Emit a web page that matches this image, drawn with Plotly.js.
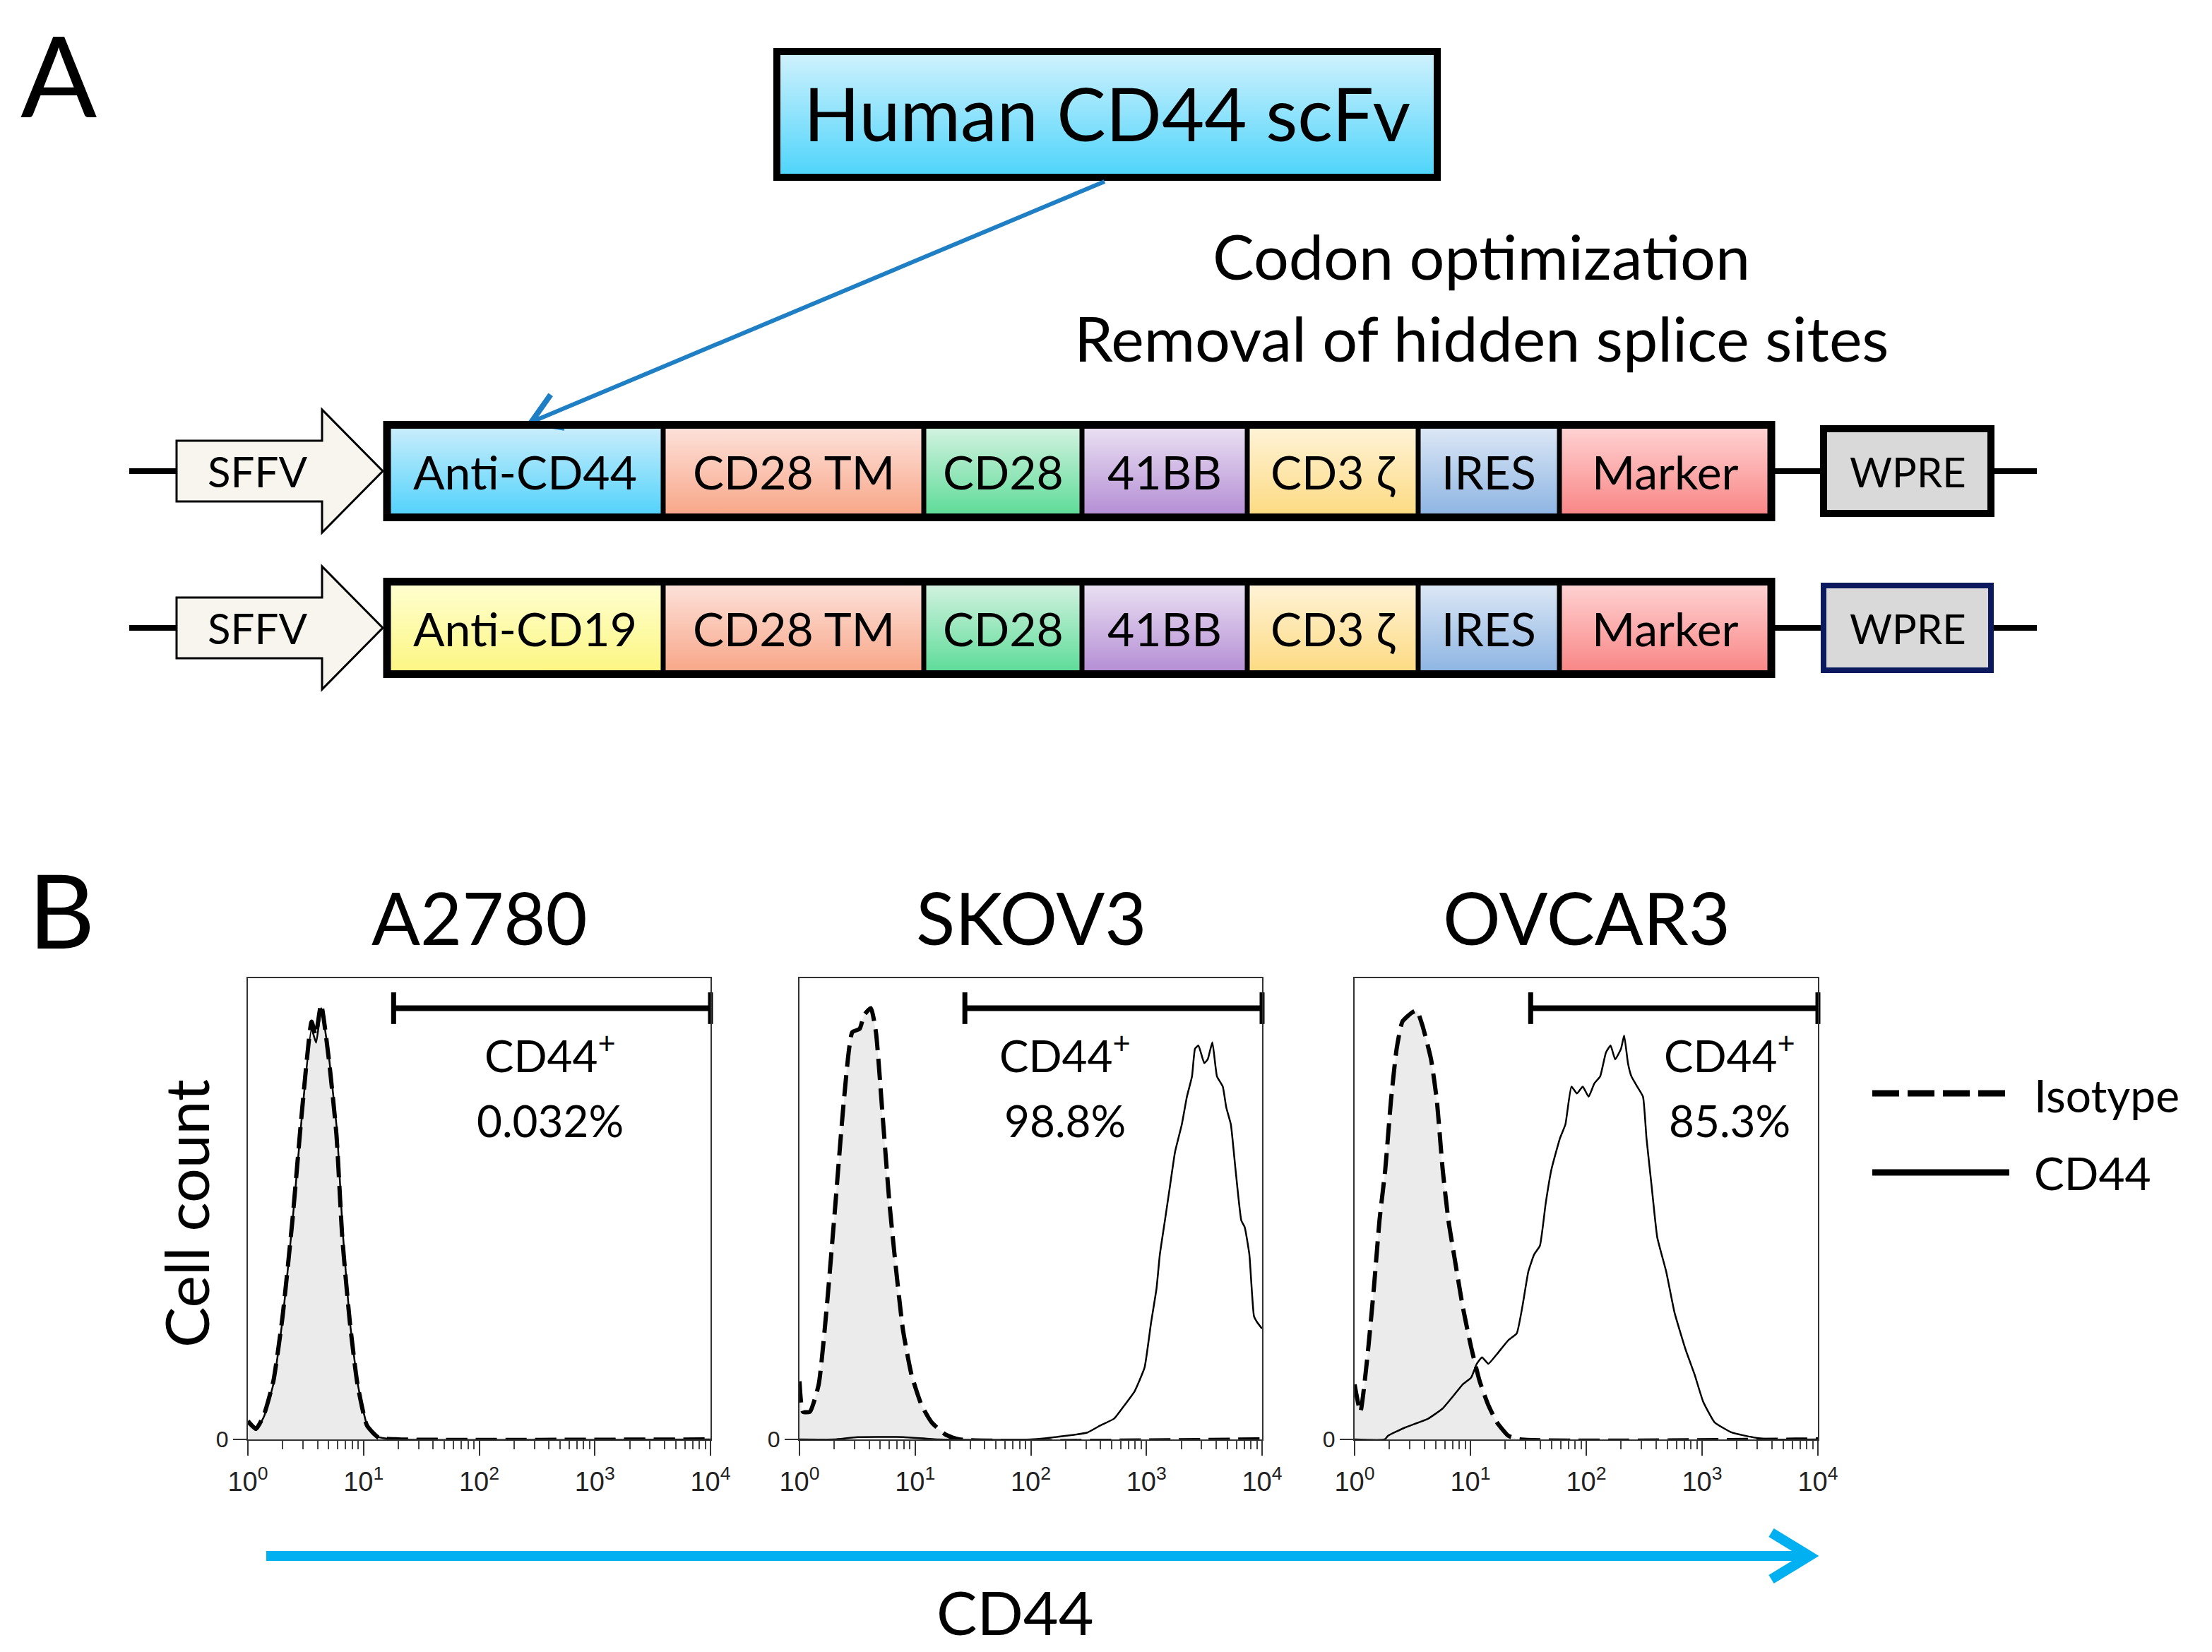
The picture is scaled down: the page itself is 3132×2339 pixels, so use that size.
<!DOCTYPE html>
<html><head><meta charset="utf-8">
<script src="https://cdn.plot.ly/plotly-3.0.1.min.js"></script>
<style>html,body{margin:0;padding:0;background:#fff}</style>
</head><body><div id="chart" style="width:3132px;height:2339px"></div>
<script>
// ================= DATA =================
const cellLines = ['A2780', 'SKOV3', 'OVCAR3'];
const positivePct = ['0.032%', '98.8%', '85.3%'];
const gateStartLog = [1.26, 1.43, 1.52];   // gate start (log10 CD44), gate ends at 10^4
const seriesNames = ['Isotype', 'CD44'];

// A2780 (x = log10 fluorescence, y = cell count, % of full scale)
const a2780IsoLog   = [0, 0.07, 0.137, 0.22, 0.30, 0.385, 0.468, 0.551, 0.585, 0.633, 0.70, 0.766, 0.816, 0.882, 0.948, 1.03, 1.13, 1.3, 4];
const a2780IsoCount = [4, 2.3, 5.2, 12.6, 26.7, 47.5, 71.3, 90.6, 87.6, 94.3, 82.4, 66, 43.8, 25.3, 11.9, 3, 0.4, 0, 0];
const a2780CdLog    = [0, 0.07, 0.14, 0.22, 0.30, 0.385, 0.47, 0.55, 0.59, 0.635, 0.70, 0.77, 0.82, 0.88, 0.95, 1.03, 1.13, 1.3, 4];
const a2780CdCount  = [3.5, 2, 5, 12, 26, 47, 71, 89, 86, 93.5, 83, 67, 45, 26, 12, 3.2, 0.5, 0, 0];

// SKOV3
const skov3IsoLog   = [0, 0.03, 0.09, 0.166, 0.237, 0.311, 0.384, 0.457, 0.52, 0.559, 0.617, 0.661, 0.72, 0.778, 0.837, 0.895, 0.968, 1.056, 1.143, 1.26, 1.38, 4];
const skov3IsoCount = [12.6, 6, 6, 11.9, 29, 51.2, 73.5, 88.3, 89, 92, 93.5, 88.3, 69.8, 51.2, 36.4, 23.7, 14.1, 7.4, 3.7, 1.1, 0, 0];
const skov3CdLog    = [0, 0.3, 0.5, 0.9, 1.2, 2.0, 2.31, 2.49, 2.60, 2.72, 2.81, 2.897, 2.984, 3.04, 3.087, 3.116, 3.16, 3.204, 3.247, 3.306, 3.35, 3.394, 3.42, 3.45, 3.50, 3.53, 3.57, 3.61, 3.66, 3.69, 3.73, 3.77, 3.82, 3.85, 3.89, 3.93, 3.96, 4.0];
const skov3CdCount  = [0, 0, 0.5, 0.5, 0, 0, 0.8, 1.5, 3, 4.5, 7.4, 10.4, 15.6, 25.3, 32.7, 40.1, 47.5, 55, 62.3, 68.3, 74.3, 78.7, 84.7, 85.4, 81.6, 82.4, 86.1, 78.7, 76.5, 72, 68.3, 58.6, 47.5, 46, 40.1, 26.7, 25.3, 24];

// OVCAR3
const ovcar3IsoLog   = [0, 0.05, 0.11, 0.166, 0.215, 0.265, 0.314, 0.363, 0.413, 0.487, 0.536, 0.585, 0.66, 0.71, 0.76, 0.81, 0.858, 0.932, 1.006, 1.08, 1.155, 1.229, 1.327, 1.43, 4];
const ovcar3IsoCount = [11.9, 6, 17.8, 32.7, 47.5, 58.6, 73.5, 84.7, 90.6, 92.4, 93, 89.8, 82.4, 73.5, 58.6, 47.5, 40.1, 29, 20, 12.6, 7.4, 3.7, 0.8, 0, 0];
const ovcar3CdLog    = [0, 0.26, 0.289, 0.438, 0.635, 0.76, 0.858, 0.932, 1.006, 1.055, 1.10, 1.155, 1.229, 1.327, 1.40, 1.45, 1.50, 1.55, 1.60, 1.65, 1.70, 1.773, 1.82, 1.872, 1.92, 1.97, 2.02, 2.07, 2.12, 2.17, 2.21, 2.25, 2.30, 2.327, 2.36, 2.39, 2.44, 2.49, 2.52, 2.564, 2.613, 2.69, 2.762, 2.86, 2.935, 3.009, 3.108, 3.256, 3.45, 3.6, 4];
const ovcar3CdCount  = [0, 0, 0.8, 2.6, 4.5, 6.7, 9.6, 11.9, 13.4, 16.4, 17.8, 16.4, 18.5, 21.5, 23, 29, 36.4, 40.1, 42, 51.2, 58.6, 65.3, 68.3, 76.5, 75, 76.5, 74.3, 77.2, 78.7, 83.9, 85.4, 82.4, 84.7, 87.6, 81.6, 78.7, 76.5, 74.3, 65.3, 55, 43.8, 36.4, 27.5, 19.3, 14.1, 8.2, 3.7, 1.5, 0.4, 0, 0];

const tickVals = [1, 10, 100, 1000, 10000];
const tickText = ['10<sup>0</sup>', '10<sup>1</sup>', '10<sup>2</sup>', '10<sup>3</sup>', '10<sup>4</sup>'];

// Construct diagram labels
const construct1Labels = ['Anti-CD44', 'CD28 TM', 'CD28', '41BB', 'CD3 ζ', 'IRES', 'Marker'];
const construct2Labels = ['Anti-CD19', 'CD28 TM', 'CD28', '41BB', 'CD3 ζ', 'IRES', 'Marker'];
const promoterLabel = 'SFFV';
const wpreLabel = 'WPRE';
const scfvLabel = 'Human CD44 scFv';
const noteLines = ['Codon optimization', 'Removal of hidden splice sites'];

// ================= LAYOUT / STYLE =================
const W = 3132, H = 2339;
const FONT = 'Lato, "Open Sans", sans-serif';
const TICKFONT = '"Liberation Sans Narrow", "Liberation Sans", Arial, sans-serif';

const segEdges = [548, 939, 1308, 1532, 1766, 2008, 2208, 2508];
const seg1Colors = [['#cdeefc', '#4fd2fb'], ['#fde3dc', '#f8a586'], ['#d6f3e2', '#5adb96'], ['#ebe2f3', '#b38cd4'],
                    ['#fff4da', '#fdda80'], ['#dfe9f6', '#8bb3e2'], ['#ffd4d4', '#f98484']];
const seg2Colors = [['#ffffd2', '#fcf680']].concat(seg1Colors.slice(1));
const rowY = [667, 889];
const boxHalf = 65.5;

const panelX = [[351, 1006], [1132, 1787], [1918, 2574]];
const panelTop = 1385, panelBottom = 2038;

const traces = [];
const shapes = [];
const annotations = [];

// annotations placed in page pixels, converted to paper fractions
function ann(x, y, text, size, extra) {
  annotations.push(Object.assign({xref: 'paper', yref: 'paper', x: x / W, y: 1 - y / H, text: text, showarrow: false,
    xanchor: 'center', yanchor: 'middle', font: {family: FONT, size: size, color: '#000'}}, extra || {}));
}

function gradientBox(x0, x1, y0, y1, light, dark) {
  traces.push({type: 'scatter', xaxis: 'x4', yaxis: 'y4', x: [x0, x1, x1, x0, x0], y: [y0, y0, y1, y1, y0],
    mode: 'lines', line: {width: 0, color: dark}, fill: 'toself',
    fillgradient: {type: 'vertical', colorscale: [[0, light], [1, dark]], start: y0, stop: y1},
    hoverinfo: 'skip', showlegend: false});
}

// ---- Part A ----
ann(83, 104, 'A', 160);
gradientBox(1100, 2035, 72, 252, '#d2f2fd', '#4cd4fb');
shapes.push({type: 'rect', xref: 'x4', yref: 'y4', x0: 1100, x1: 2035, y0: 73, y1: 251, line: {width: 10, color: '#000'}});
ann(1567, 160, scfvLabel, 104);
noteLines.forEach((t, i) => ann(2097, 362 + i * 116, t, 88));

// blue pointer arrow
(function () {
  const tx = 752, ty = 598, sx = 1564, sy = 257;
  shapes.push({type: 'line', xref: 'x4', yref: 'y4', x0: sx, y0: sy, x1: tx + 4, y1: ty - 2, line: {width: 6, color: '#1f7fc4'}});
  const dx = sx - tx, dy = sy - ty, L = Math.hypot(dx, dy), ux = dx / L, uy = dy / L, a = 32 * Math.PI / 180, len = 48;
  const p1 = [tx + len * (ux * Math.cos(a) - uy * Math.sin(a)), ty + len * (ux * Math.sin(a) + uy * Math.cos(a))];
  const p2 = [tx + len * (ux * Math.cos(-a) - uy * Math.sin(-a)), ty + len * (ux * Math.sin(-a) + uy * Math.cos(-a))];
  shapes.push({type: 'path', xref: 'x4', yref: 'y4', path: `M${p1[0]},${p1[1]} L${tx},${ty} L${p2[0]},${p2[1]}`,
    line: {width: 8, color: '#1f7fc4'}});
})();

[construct1Labels, construct2Labels].forEach((labels, r) => {
  const y = rowY[r];
  const cols = r === 0 ? seg1Colors : seg2Colors;
  [[183, 250], [2513, 2582], [2819, 2884]].forEach(p => shapes.push({type: 'line', xref: 'x4', yref: 'y4',
    x0: p[0], x1: p[1], y0: y, y1: y, line: {width: 8, color: '#000'}}));
  shapes.push({type: 'path', xref: 'x4', yref: 'y4',
    path: `M250,${y - 43} L456,${y - 43} L456,${y - 87} L542,${y} L456,${y + 87} L456,${y + 43} L250,${y + 43} Z`,
    fillcolor: '#f7f5ee', line: {width: 3, color: '#000'}});
  ann(364, y, promoterLabel, 60);
  labels.forEach((lab, i) => {
    gradientBox(segEdges[i], segEdges[i + 1], y - boxHalf, y + boxHalf, cols[i][0], cols[i][1]);
    ann((segEdges[i] + segEdges[i + 1]) / 2, y, lab, 66);
  });
  for (let i = 1; i < segEdges.length - 1; i++) {
    shapes.push({type: 'line', xref: 'x4', yref: 'y4', x0: segEdges[i], x1: segEdges[i], y0: y - boxHalf, y1: y + boxHalf,
      line: {width: 7, color: '#000'}});
  }
  shapes.push({type: 'rect', xref: 'x4', yref: 'y4', x0: segEdges[0], x1: segEdges[segEdges.length - 1],
    y0: y - boxHalf, y1: y + boxHalf, line: {width: 11, color: '#000'}});
  shapes.push({type: 'rect', xref: 'x4', yref: 'y4', x0: 2582, x1: 2819, y0: y - 60, y1: y + 60,
    fillcolor: '#d9d9d9', line: {width: r === 0 ? 10 : 8, color: r === 0 ? '#000' : '#0b1a5e'}});
  ann(2701, y, wpreLabel, 58);
});

// ---- Part B ----
ann(87, 1286, 'B', 146);
ann(262, 1718, 'Cell count', 86, {textangle: -90});

const isoLogs = [a2780IsoLog, skov3IsoLog, ovcar3IsoLog];
const isoCounts = [a2780IsoCount, skov3IsoCount, ovcar3IsoCount];
const cdLogs = [a2780CdLog, skov3CdLog, ovcar3CdLog];
const cdCounts = [a2780CdCount, skov3CdCount, ovcar3CdCount];

const layout = {
  width: W, height: H, margin: {l: 0, r: 0, t: 0, b: 0},
  paper_bgcolor: '#fff', plot_bgcolor: 'rgba(0,0,0,0)', showlegend: false,
  xaxis4: {domain: [0, 1], range: [0, W], visible: false, fixedrange: true},
  yaxis4: {domain: [0, 1], range: [H, 0], visible: false, fixedrange: true, anchor: 'x4'},
  shapes: shapes, annotations: annotations
};

const DASH = '30px,12px';
cellLines.forEach((name, i) => {
  const xa = i === 0 ? 'x' : 'x' + (i + 1);
  const ya = i === 0 ? 'y' : 'y' + (i + 1);
  const xk = i === 0 ? 'xaxis' : 'xaxis' + (i + 1);
  const yk = i === 0 ? 'yaxis' : 'yaxis' + (i + 1);
  const isoX = isoLogs[i].map(v => Math.pow(10, v));
  const cdX = cdLogs[i].map(v => Math.pow(10, v));
  traces.push({type: 'scatter', xaxis: xa, yaxis: ya, x: isoX, y: isoCounts[i], mode: 'lines', fill: 'tozeroy',
    fillcolor: '#ebebeb', line: {width: 0, shape: 'spline', smoothing: 0.5}, hoverinfo: 'skip', showlegend: false});
  traces.push({type: 'scatter', xaxis: xa, yaxis: ya, x: cdX, y: cdCounts[i], mode: 'lines', name: seriesNames[1],
    line: {width: 2.5, color: '#000', shape: 'spline', smoothing: 0.4}, showlegend: false});
  traces.push({type: 'scatter', xaxis: xa, yaxis: ya, x: isoX, y: isoCounts[i], mode: 'lines', name: seriesNames[0],
    line: {width: 6, color: '#000', dash: DASH, shape: 'spline', smoothing: 0.5}, showlegend: false});
  traces.push({type: 'scatter', xaxis: xa, yaxis: ya, x: [Math.pow(10, gateStartLog[i]), 10000], y: [93.5, 93.5],
    mode: 'lines+markers', line: {width: 8, color: '#000'},
    marker: {symbol: 'line-ns', size: 32, line: {width: 7, color: '#000'}}, cliponaxis: false,
    hoverinfo: 'skip', showlegend: false});

  layout[xk] = {type: 'log', range: [0, 4], domain: [panelX[i][0] / W, panelX[i][1] / W], anchor: ya,
    showline: true, mirror: true, linecolor: '#333', linewidth: 2, showgrid: false, zeroline: false,
    ticks: 'outside', ticklen: 21, tickwidth: 2, tickcolor: '#333', tickmode: 'array', tickvals: tickVals, ticktext: tickText,
    tickfont: {family: TICKFONT, size: 38, color: '#222'}, ticklabelstandoff: 4,
    minor: {ticks: 'outside', ticklen: 12, tickwidth: 1.5, tickcolor: '#444', dtick: 'D1', showgrid: false},
    fixedrange: true};
  layout[yk] = {range: [0, 100], domain: [1 - panelBottom / H, 1 - panelTop / H], anchor: xa,
    showline: true, mirror: true, linecolor: '#333', linewidth: 2, showgrid: false, zeroline: false,
    ticks: 'outside', ticklen: 19, tickwidth: 2, tickcolor: '#333', tickmode: 'array', tickvals: [0], ticktext: ['0'],
    tickfont: {family: TICKFONT, size: 32, color: '#222'}, fixedrange: true};

  const cx = (panelX[i][0] + panelX[i][1]) / 2;
  ann(cx, 1298, name, 102);
});

const pctX = [779, 1508, 2449];
cellLines.forEach((n, i) => {
  ann(pctX[i], 1490, 'CD44<sup>+</sup>', 62);
  ann(pctX[i], 1586, positivePct[i], 62);
});

// legend
shapes.push({type: 'line', xref: 'x4', yref: 'y4', x0: 2651, x1: 2845, y0: 1548, y1: 1548, line: {width: 9, color: '#000', dash: '38px,12px'}});
shapes.push({type: 'line', xref: 'x4', yref: 'y4', x0: 2651, x1: 2845, y0: 1660, y1: 1660, line: {width: 9, color: '#000'}});
ann(2878, 1550, seriesNames[0], 64, {xanchor: 'left'});
ann(2878, 1660, seriesNames[1], 64, {xanchor: 'left'});

// CD44 axis arrow
shapes.push({type: 'line', xref: 'x4', yref: 'y4', x0: 377, x1: 2558, y0: 2203, y1: 2203, line: {width: 14, color: '#00b0f0'}});
shapes.push({type: 'path', xref: 'x4', yref: 'y4', path: 'M2508,2170 L2562,2203 L2508,2236', line: {width: 14, color: '#00b0f0'}});
ann(1437, 2281, 'CD44', 86);

Plotly.newPlot('chart', traces, layout, {displayModeBar: false});
</script></body></html>
